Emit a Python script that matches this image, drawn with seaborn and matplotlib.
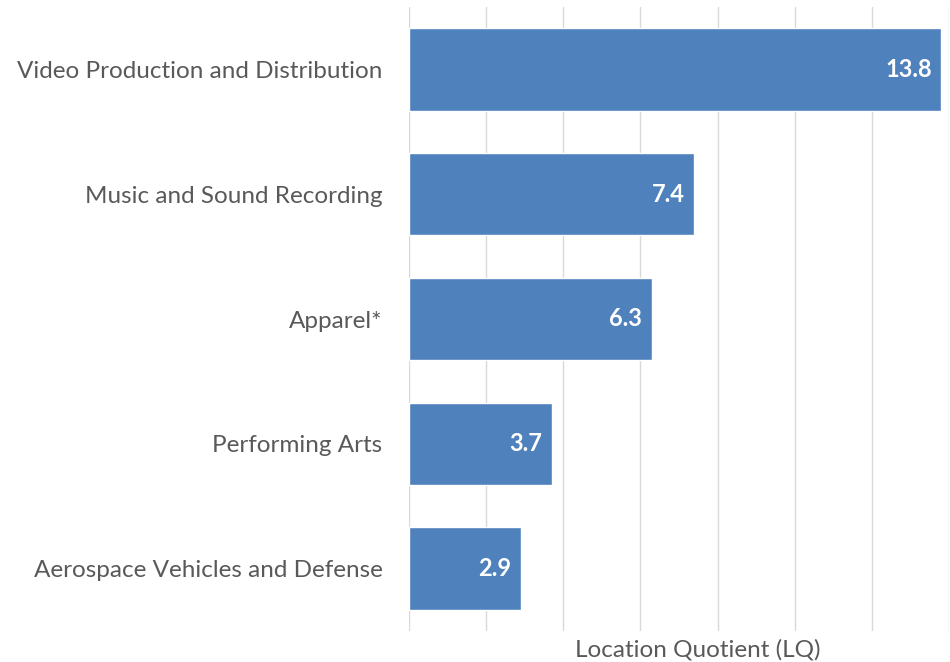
import matplotlib
matplotlib.use("Agg")
import matplotlib.pyplot as plt
import seaborn as sns
import pandas as pd

industries = ['Video Production and Distribution', 'Music and Sound Recording',
              'Apparel*', 'Performing Arts', 'Aerospace Vehicles and Defense']
lq_values = [13.8, 7.4, 6.3, 3.7, 2.9]

df = pd.DataFrame({'industry': industries, 'lq': lq_values})

sns.set_style('white')
plt.rcParams['font.family'] = ['Lato', 'DejaVu Sans']

fig = plt.figure(figsize=(9.5, 6.62), dpi=100)
ax = fig.add_axes([409 / 950, 31 / 662, 540 / 950, 624 / 662])

sns.barplot(data=df, x='lq', y='industry', color='#4F81BD', saturation=1,
            width=0.66, orient='h', ax=ax, zorder=3)

ax.set_xlim(0, 14)
ax.set_ylim(4.5, -0.5)
ax.set_xticks(range(0, 15, 2))
ax.set_xticklabels([])
ax.grid(axis='x', color='#D9D9D9', linewidth=1, zorder=0)
ax.tick_params(axis='both', length=0)
ax.tick_params(axis='y', labelsize=17.5, labelcolor='#595959', pad=19)
for s in ax.spines.values():
    s.set_visible(False)
ax.set_xlabel('')
ax.set_ylabel('')

for i, v in enumerate(lq_values):
    ax.text(v - 0.25, i, f'{v:.1f}', ha='right', va='center', color='white',
            fontsize=17, fontweight='bold', zorder=4)

fig.text(698 / 950, 1 - 650 / 662, 'Location Quotient (LQ)', ha='center', va='center',
         fontsize=17.5, color='#595959')

fig.savefig('out.png', dpi=100)
